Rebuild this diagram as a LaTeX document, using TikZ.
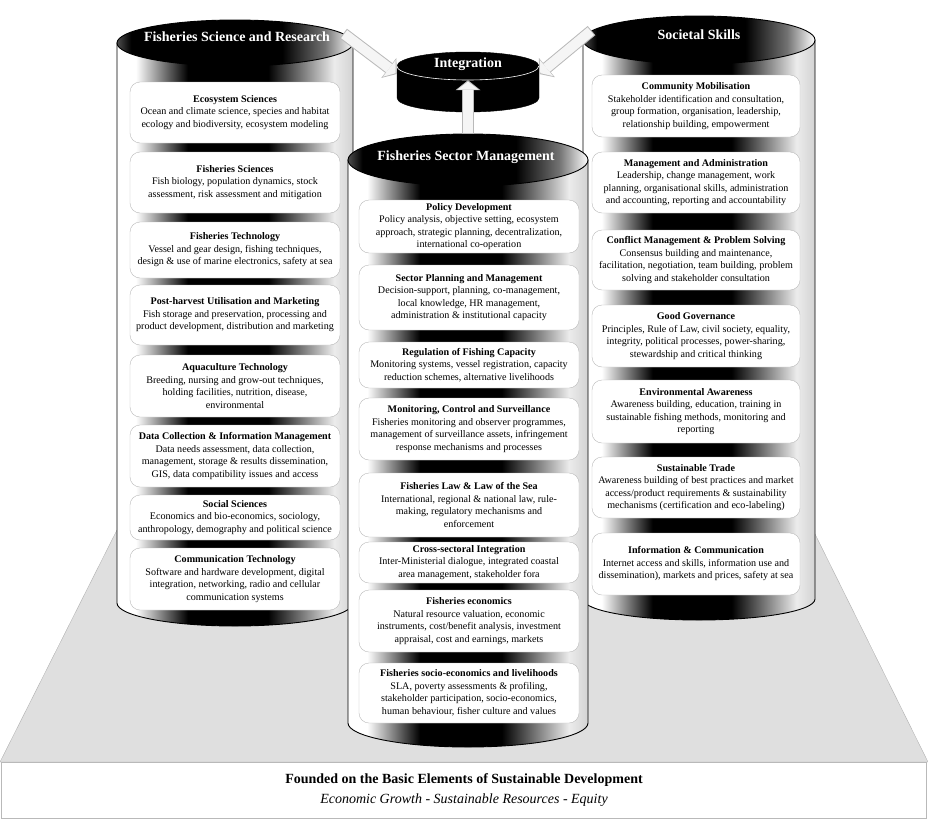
\documentclass[tikz,border=0pt]{standalone}
\usepackage{fontspec}
\setmainfont{Liberation Serif}
\usetikzlibrary{shapes.geometric,arrows.meta}

\pgfdeclarehorizontalshading{cylband}{100bp}{color(0bp)=(white); color(29bp)=(white); color(40bp)=(black); color(57bp)=(black); color(71bp)=(gray!15); color(75bp)=(gray!35); color(100bp)=(gray!35)}
\pgfdeclarehorizontalshading{capband}{100bp}{color(0bp)=(black!70); color(25bp)=(black!70); color(28bp)=(black); color(60bp)=(black); color(69bp)=(black!55); color(75bp)=(white); color(100bp)=(white)}

\tikzset{
  cylbody/.style={draw=black, line width=0.9pt, shade, shading=cylband},
  cylcap/.style={ellipse, draw=black, line width=0.9pt, shade, shading=capband, inner sep=0pt},
  captitle/.style={text=white, font=\fontsize{14}{16}\selectfont\bfseries},
  infobox/.style={draw=gray!55, fill=white, rounded corners=10pt, align=center, inner sep=2pt, font=\fontsize{10.1}{12.5}\selectfont},
  leftbox/.style={infobox, minimum width=210pt},
  midbox/.style={infobox, minimum width=220pt},
  rightbox/.style={infobox, minimum width=208pt},
  arrowrim/.style={line width=12pt, draw=gray!55, -{Triangle[length=10pt,width=25pt,line width=0pt]}},
  arrowcore/.style={line width=10pt, draw=gray!8, shorten <=1pt, shorten >=1.4pt, -{Triangle[length=8pt,width=21pt,line width=0pt]}}
}

\begin{document}
\begin{tikzpicture}[x=1pt,y=-1pt]

\useasboundingbox (0,0) rectangle (928,819);

% socle

\draw[fill=gray!25, draw=gray!60] (117,530) -- (813,530) -- (928,762) -- (0,762) -- cycle ;
\node[draw=gray!55, fill=white, minimum width=925pt, minimum height=56pt, align=center, font=\fontsize{14}{20}\selectfont] (base) at (464,790) {\textbf{Founded on the Basic Elements of Sustainable Development}\\\textit{Economic Growth - Sustainable Resources - Equity}} ;

% cylindre gauche

\draw[cylbody] (117,43) -- (117,603) arc[start angle=180, end angle=0, x radius=118, y radius=23] -- (353,43) -- cycle ;
\node[cylcap, minimum width=236pt, minimum height=46pt] (sciCap) at (235,43) {} ;
\node[captitle] (sciTitle) at (237,37) {Fisheries Science and Research} ;

\node[leftbox, minimum height=61pt] (eco) at (235,112.5) {\textbf{Ecosystem Sciences}\\Ocean and climate science, species and habitat\\ecology and biodiversity, ecosystem modeling} ;
\node[leftbox, minimum height=61pt] (fsci) at (235,182.5) {\textbf{Fisheries Sciences}\\Fish biology, population dynamics, stock\\assessment, risk assessment and mitigation} ;
\node[leftbox, minimum height=56pt] (ftech) at (235,250) {\textbf{Fisheries Technology}\\Vessel and gear design, fishing techniques,\\design \& use of marine electronics, safety at sea} ;
\node[leftbox, minimum height=60pt] (post) at (235,315) {\textbf{Post-harvest Utilisation and Marketing}\\Fish storage and preservation, processing and\\product development, distribution and marketing} ;
\node[leftbox, minimum height=62pt] (aqua) at (235,386) {\textbf{Aquaculture Technology}\\Breeding, nursing and grow-out techniques,\\holding facilities, nutrition, disease,\\environmental} ;
\node[leftbox, minimum height=62pt] (data) at (235,456) {\textbf{Data Collection \& Information Management}\\Data needs assessment, data collection,\\management, storage \& results dissemination,\\GIS, data compatibility issues and access} ;
\node[leftbox, minimum height=45pt] (social) at (235,517.5) {\textbf{Social Sciences}\\Economics and bio-economics, sociology,\\anthropology, demography and political science} ;
\node[leftbox, minimum height=62pt] (comm) at (235,579) {\textbf{Communication Technology}\\Software and hardware development, digital\\integration, networking, radio and cellular\\communication systems} ;

% cylindre droit

\draw[cylbody] (583,40) -- (583,599) arc[start angle=180, end angle=0, x radius=116, y radius=21] -- (815,40) -- cycle ;
\node[cylcap, minimum width=232pt, minimum height=48pt] (socCap) at (699,40) {} ;
\node[captitle] (socTitle) at (699,35) {Societal Skills} ;

\node[rightbox, minimum height=62pt] (mobil) at (696,106) {\textbf{Community Mobilisation}\\Stakeholder identification and consultation,\\group formation, organisation, leadership,\\relationship building, empowerment} ;
\node[rightbox, minimum height=61pt] (admin) at (696,182.5) {\textbf{Management and Administration}\\Leadership, change management, work\\planning, organisational skills, administration\\and accounting, reporting and accountability} ;
\node[rightbox, minimum height=60pt] (confl) at (696,260) {\textbf{Conflict Management \& Problem Solving}\\Consensus building and maintenance,\\facilitation, negotiation, team building, problem\\solving and stakeholder consultation} ;
\node[rightbox, minimum height=62pt] (gov) at (696,336) {\textbf{Good Governance}\\Principles, Rule of Law, civil society, equality,\\integrity, political processes, power-sharing,\\stewardship and critical thinking} ;
\node[rightbox, minimum height=63pt] (envir) at (696,411.5) {\textbf{Environmental Awareness}\\Awareness building, education, training in\\sustainable fishing methods, monitoring and\\reporting} ;
\node[rightbox, minimum height=61pt] (trade) at (696,487.5) {\textbf{Sustainable Trade}\\Awareness building of best practices and market\\access/product requirements \& sustainability\\mechanisms (certification and eco-labeling)} ;
\node[rightbox, minimum height=62pt] (info) at (696,564) {\textbf{Information \& Communication}\\Internet access and skills, information use and\\dissemination), markets and prices, safety at sea} ;

% cylindre central

\draw[cylbody] (348,160) -- (348,723) arc[start angle=180, end angle=0, x radius=120, y radius=24] -- (588,160) -- cycle ;
\node[cylcap, minimum width=240pt, minimum height=52pt] (mgmtCap) at (468,160) {} ;
\node[captitle] (mgmtTitle) at (466,157) {Fisheries Sector Management} ;

\node[midbox, minimum height=53pt] (policy) at (469,226.5) {\textbf{Policy Development}\\Policy analysis, objective setting, ecosystem\\approach, strategic planning, decentralization,\\international co-operation} ;
\node[midbox, minimum height=65pt] (plan) at (469,297.5) {\textbf{Sector Planning and Management}\\Decision-support, planning, co-management,\\local knowledge, HR management,\\administration \& institutional capacity} ;
\node[midbox, minimum height=46pt] (regul) at (469,365) {\textbf{Regulation of Fishing Capacity}\\Monitoring systems, vessel registration, capacity\\reduction schemes, alternative livelihoods} ;
\node[midbox, minimum height=62pt] (mcs) at (469,429) {\textbf{Monitoring, Control and Surveillance}\\Fisheries monitoring and observer programmes,\\management of surveillance assets, infringement\\response mechanisms and processes} ;
\node[midbox, minimum height=64pt] (law) at (469,505) {\textbf{Fisheries Law \& Law of the Sea}\\International, regional \& national law, rule-\\making, regulatory mechanisms and\\enforcement} ;
\node[midbox, minimum height=41pt] (cross) at (469,562.5) {\textbf{Cross-sectoral Integration}\\Inter-Ministerial dialogue, integrated coastal\\area management, stakeholder fora} ;
\node[midbox, minimum height=62pt] (econ) at (469,621) {\textbf{Fisheries economics}\\Natural resource valuation, economic\\instruments, cost/benefit analysis, investment\\appraisal, cost and earnings, markets} ;
\node[midbox, minimum height=60pt] (socio) at (469,693) {\textbf{Fisheries socio-economics and livelihoods}\\SLA, poverty assessments \& profiling,\\stakeholder participation, socio-economics,\\human behaviour, fisher culture and values} ;

% disque integration

\draw[fill=black] (397,66) -- (397,98) arc[start angle=180, end angle=0, x radius=71, y radius=14] -- (539,66) -- cycle ;
\node[ellipse, draw=black, fill=black, minimum width=142pt, minimum height=28pt, inner sep=0pt] (integ) at (468,66) {} ;
\draw[white, line width=0.6pt] (integ.west) arc[start angle=180, end angle=0, x radius=71, y radius=14] ;
\node[captitle] (integTitle) at (468,64) {Integration} ;

% fleches

\draw[arrowrim] (sciCap.5) -- ([yshift=-8pt]integ.west) ;
\draw[arrowcore] (sciCap.5) -- ([yshift=-8pt]integ.west) ;
\draw[arrowrim] (socCap.175) -- ([yshift=-8pt]integ.east) ;
\draw[arrowcore] (socCap.175) -- ([yshift=-8pt]integ.east) ;
\draw[arrowrim] (mgmtCap.north) -- (integ.south) ;
\draw[arrowcore] (mgmtCap.north) -- (integ.south) ;

\end{tikzpicture}
\end{document}
